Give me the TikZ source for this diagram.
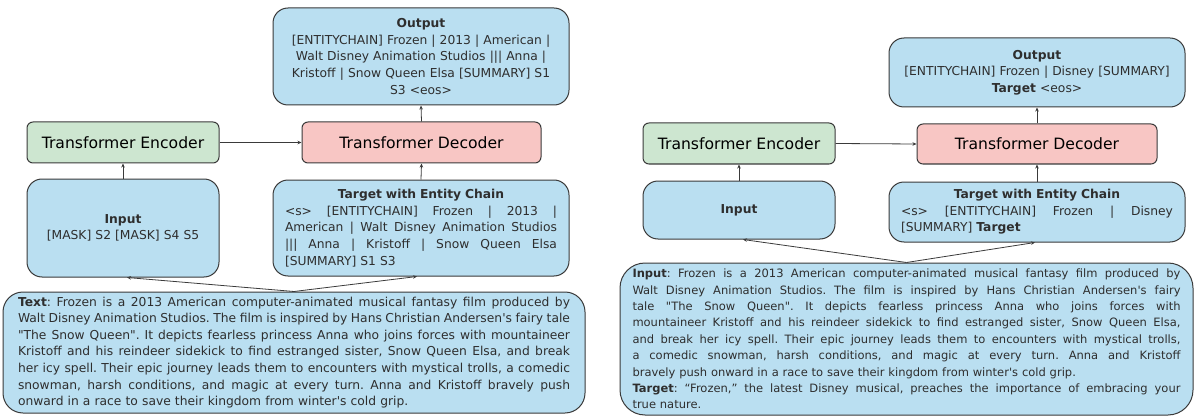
\documentclass[tikz,border=0pt]{standalone}
\usepackage{fontspec}
\setmainfont{DejaVu Sans}[Ligatures=TeXOff]
\usetikzlibrary{arrows.meta}
\definecolor{bluef}{HTML}{BADFF1}
\definecolor{greenf}{HTML}{CDE6D0}
\definecolor{pinkf}{HTML}{F8C6C4}
\definecolor{strokec}{HTML}{3A3A3A}
\definecolor{textc}{HTML}{2E2E2E}
\frenchspacing
\newcommand\jl[2]{\leavevmode{\spaceskip=0.318em plus 1fil minus 0.08em\relax\hbox to #1{#2}}}
\begin{document}
\begin{tikzpicture}[x=1pt,y=-1pt,
  box/.style={draw=strokec, line width=1pt, rounded corners=15pt, fill=bluef, inner sep=0pt,
    font=\fontsize{12.3}{16.6}\selectfont, text=textc},
  blk/.style={draw=strokec, line width=1pt, rounded corners=6pt, inner sep=0pt,
    font=\fontsize{15.6}{20}\selectfont, text=black, minimum height=41pt},
  arr/.style={-{Stealth[length=4pt,width=3.5pt]}, line width=0.8pt, draw=strokec}]
\useasboundingbox (0,0) rectangle (1194,417);
% ---------------- left panel ----------------
\node[box, minimum width=296pt, minimum height=97pt, text width=284pt, align=center] (out1) at (421,56.5)
  {\textbf{Output}\\{[}ENTITYCHAIN] Frozen | 2013 | American |\\Walt Disney Animation Studios ||| Anna |\\Kristoff | Snow Queen Elsa [SUMMARY] S1\\S3 <eos>};
\node[blk, fill=greenf, minimum width=192pt] (enc1) at (123,142.5) {Transformer Encoder};
\node[blk, fill=pinkf, minimum width=239pt] (dec1) at (421.5,142.5) {Transformer Decoder};
\node[box, minimum width=192pt, minimum height=98pt, text width=180pt, align=center] (in1) at (123,228)
  {\textbf{Input}\\{[}MASK] S2 [MASK] S4 S5};
\node[box, minimum width=296pt, minimum height=96pt, text width=272pt, align=left] (tg1) at (421,228)
  {\jl{272pt}{\hfill\textbf{Target with Entity Chain}\hfill}\\
   \jl{272pt}{<s> [ENTITYCHAIN] Frozen | 2013 |}\\
   \jl{272pt}{American | Walt Disney Animation Studios}\\
   \jl{272pt}{||| Anna | Kristoff | Snow Queen Elsa}\\
   {[}SUMMARY] S1 S3};
\node[box, rounded corners=20pt, minimum width=582pt, minimum height=121pt, text width=552pt, align=left] (tx1) at (294,352.5)
  {\jl{552pt}{\textbf{Text}: Frozen is a 2013 American computer-animated musical fantasy film produced by}\\
   \jl{552pt}{Walt Disney Animation Studios. The film is inspired by Hans Christian Andersen's fairy tale}\\
   \jl{552pt}{"The Snow Queen". It depicts fearless princess Anna who joins forces with mountaineer}\\
   \jl{552pt}{Kristoff and his reindeer sidekick to find estranged sister, Snow Queen Elsa, and break}\\
   \jl{552pt}{her icy spell. Their epic journey leads them to encounters with mystical trolls, a comedic}\\
   \jl{552pt}{snowman, harsh conditions, and magic at every turn. Anna and Kristoff bravely push}\\
   onward in a race to save their kingdom from winter's cold grip.};
\draw[arr] (enc1.east) -- (dec1.west);
\draw[arr] (dec1.north) -- (out1.south);
\draw[arr] (in1.north) -- (enc1.south);
\draw[arr] (tg1.north) -- (dec1.south);
\draw[arr] (tx1.north) -- ([xshift=4pt]in1.south);
\draw[arr] (tx1.north) -- ([xshift=-4pt]tg1.south);
% ---------------- right panel ----------------
\node[box, minimum width=296pt, minimum height=69pt, text width=286pt, align=center] (out2) at (1037,72.5)
  {\textbf{Output}\\{[}ENTITYCHAIN] Frozen | Disney [SUMMARY]\\\textbf{Target} <eos>};
\node[blk, fill=greenf, minimum width=192pt] (enc2) at (739,143.5) {Transformer Encoder};
\node[blk, fill=pinkf, minimum width=240pt, minimum height=40pt] (dec2) at (1037,144) {Transformer Decoder};
\node[box, minimum width=192pt, minimum height=58pt, text width=180pt, align=center] (in2) at (739,210)
  {\textbf{Input}};
\node[box, minimum width=296pt, minimum height=60pt, text width=272pt, align=left] (tg2) at (1037,212)
  {\jl{272pt}{\hfill\textbf{Target with Entity Chain}\hfill}\\
   \jl{272pt}{<s> [ENTITYCHAIN] Frozen | Disney}\\
   {[}SUMMARY] \textbf{Target}};
\node[box, rounded corners=25pt, minimum width=573pt, minimum height=152pt, text width=548pt, align=left,
      font=\fontsize{11.5}{16.4}\selectfont] (tx2) at (906.5,339)
  {\jl{548pt}{\textbf{Input}: Frozen is a 2013 American computer-animated musical fantasy film produced by}\\
   \jl{548pt}{Walt Disney Animation Studios. The film is inspired by Hans Christian Andersen's fairy}\\
   \jl{548pt}{tale "The Snow Queen". It depicts fearless princess Anna who joins forces with}\\
   \jl{548pt}{mountaineer Kristoff and his reindeer sidekick to find estranged sister, Snow Queen Elsa,}\\
   \jl{548pt}{and break her icy spell. Their epic journey leads them to encounters with mystical trolls,}\\
   \jl{548pt}{a comedic snowman, harsh conditions, and magic at every turn. Anna and Kristoff}\\
   bravely push onward in a race to save their kingdom from winter's cold grip.\\
   \jl{548pt}{\textbf{Target}: “Frozen,” the latest Disney musical, preaches the importance of embracing your}\\
   true nature.};
\draw[arr] (enc2.east) -- (dec2.west);
\draw[arr] (dec2.north) -- (out2.south);
\draw[arr] (in2.north) -- (enc2.south);
\draw[arr] (tg2.north) -- (dec2.south);
\draw[arr] (tx2.north) -- ([xshift=4pt]in2.south);
\draw[arr] (tx2.north) -- ([xshift=-2pt]tg2.south);
\end{tikzpicture}
\end{document}
